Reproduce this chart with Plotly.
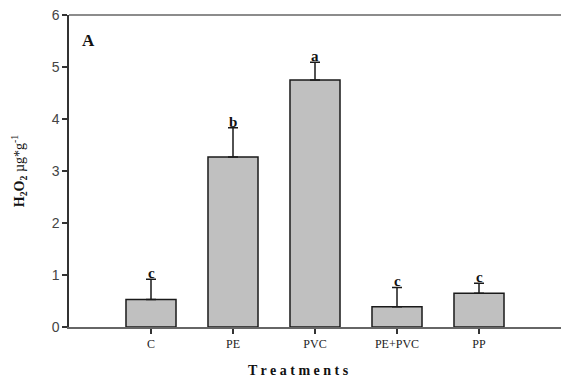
import plotly.graph_objects as go

categories = ["C", "PE", "PVC", "PE+PVC", "PP"]
means = [0.53, 3.27, 4.75, 0.39, 0.65]
errors = [0.39, 0.56, 0.34, 0.37, 0.19]
letters = ["c", "b", "a", "c", "c"]
y_ticks = [0, 1, 2, 3, 4, 5, 6]

x_pos = list(range(len(categories)))

fig = go.Figure()
fig.add_trace(go.Bar(
    x=x_pos, y=means, width=0.61,
    marker=dict(color="#c0c0c0", line=dict(color="#1a1a1a", width=1.5)),
    error_y=dict(type="data", array=errors, arrayminus=[0]*len(errors),
                 symmetric=False, color="#1a1a1a", thickness=1.5, width=5),
    showlegend=False,
))

for xi, m, e, l in zip(x_pos, means, errors, letters):
    fig.add_annotation(x=xi, y=m + e, text="<b>%s</b>" % l, showarrow=False,
                       yanchor="bottom", yshift=-4,
                       font=dict(family="Liberation Serif", size=15, color="#111"))

fig.add_annotation(xref="paper", yref="paper", x=0.022, y=0.955, text="<b>A</b>",
                   showarrow=False, xanchor="left", yanchor="top",
                   font=dict(family="Liberation Serif", size=17, color="#111"))

fig.add_annotation(xref="x", yref="paper", x=1.8, y=-0.108, text="<b>T r e a t m e n t s</b>",
                   showarrow=False, xanchor="center", yanchor="top",
                   font=dict(family="Liberation Serif", size=14, color="#111"))

# top frame line
fig.add_shape(type="line", xref="paper", yref="paper", x0=0, x1=1.05, y0=1, y1=1,
              line=dict(color="#666", width=1.5))

fig.update_layout(
    width=561, height=380,
    margin=dict(l=69, r=0, t=15, b=53),
    plot_bgcolor="white", paper_bgcolor="white",
    bargap=0.39,
    xaxis=dict(
        range=[-1, 5], tickmode="array", tickvals=x_pos, ticktext=categories,
        showline=True, linecolor="#666", linewidth=1.5, mirror=False,
        ticks="outside", ticklen=5, tickcolor="#333", tickwidth=1.5,
        showgrid=False, zeroline=False,
        tickfont=dict(family="Liberation Serif", size=12, color="#222"),
    ),
    yaxis=dict(
        range=[0, 6], tickmode="array", tickvals=y_ticks,
        showline=True, linecolor="#333", linewidth=1.5, mirror=False,
        ticks="outside", ticklen=5, tickcolor="#333", tickwidth=1.5,
        showgrid=False, zeroline=False,
        tickfont=dict(family="Liberation Sans", size=14, color="#444"),
        title=dict(text="<b>H<sub>2</sub>O<sub>2</sub> </b>µg*g<sup>-1</sup>", standoff=24,
                   font=dict(family="Liberation Serif", size=14, color="#111")),
    ),
)

fig.write_html("out.html")
